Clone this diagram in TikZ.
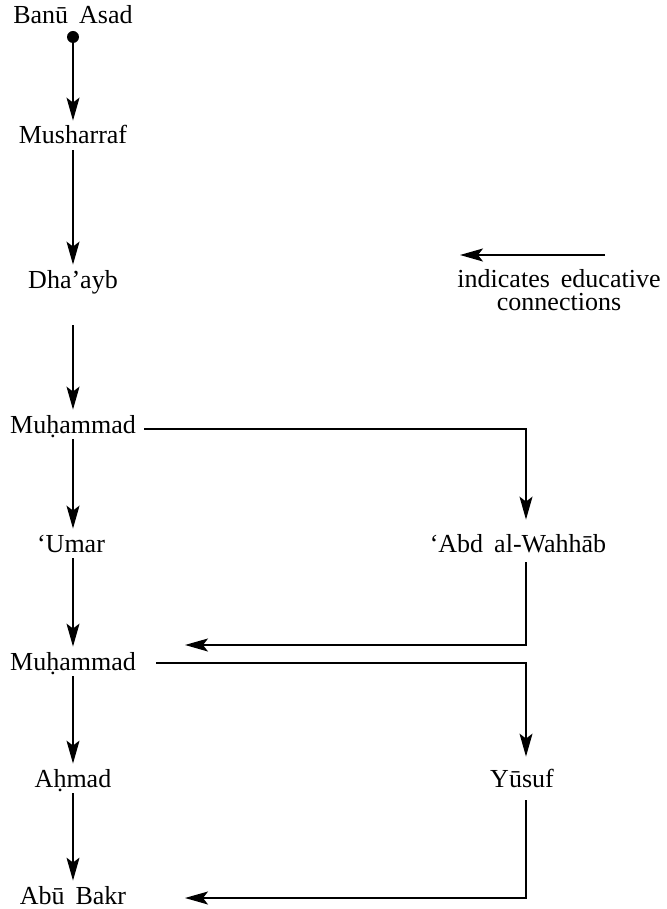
\documentclass[tikz,border=0pt]{standalone}
\usepackage{fontspec}
\setmainfont{Liberation Serif}
\usetikzlibrary{arrows.meta}
\newcommand\personfont{\fontsize{13}{15}\selectfont\spaceskip 5.5pt\relax}

\begin{document}
\begin{tikzpicture}[x=0.5pt,y=-0.5pt,
  person/.style={anchor=base,font=\personfont,
    text height=8.5pt,text depth=0pt,inner xsep=0pt,inner ysep=3pt},
  line/.style={line width=0.65pt,-{Stealth[length=11.5pt,width=6.5pt,inset=2.5pt]}}]
  % helper grid: comment for final drawing
  % \draw[help lines,step=20] (0,0) grid (666,909);
  % \foreach \x in {0,100,...,600}
  %      \node[anchor=north] at (\x,909) {\x};
  \useasboundingbox (0,0) rectangle (666,909);

  % line of descent
  \node[person] (asad)  at (73,24)  {Banū Asad};
  \node[circle,fill,inner sep=0pt,minimum size=6pt] (root) at (73,37) {};
  \node[person] (mush)  at (73,144) {Musharraf};
  \node[person] (dhay)  at (73,288) {Dha’ayb};
  \node[person] (muh1)  at (73,433) {Muḥammad};
  \node[person] (umar)  at (71,552) {‘Umar};
  \node[person] (muh2)  at (73,670) {Muḥammad};
  \node[person] (ahmad) at (73,787) {Aḥmad};
  \node[person] (abu)   at (73,904) {Abū Bakr};

  % teachers
  \node[person] (wahhab) at (518,552) {‘Abd al-Wahhāb};
  \node[person] (yusuf)  at (522,787) {Yūsuf};

  % key
  \coordinate (keyA) at (605,255);
  \coordinate (keyB) at (460,255);
  \node[person] (key1) at (559,287) {indicates educative};
  \node[person] (key2) at (559,310) {connections};
  \draw[line] (keyA) -- (keyB);

  % vertical arrows
  \draw[line] (root) -- (mush);
  \draw[line] (mush) -- (dhay);
  \draw[line,shorten <=15.5pt] (dhay) -- (muh1);
  \draw[line] (muh1) -- (muh1 |- umar.north);
  \draw[line] (muh1 |- umar.south) -- (muh2);
  \draw[line] (muh2) -- (ahmad);
  \draw[line] (ahmad) -- (abu);

  % educative connections
  \coordinate (back1) at (185,645);
  \coordinate (back2) at (185,898);
  \draw[line,shorten >=4.5pt] ([xshift=4pt,yshift=2pt]muh1.base east) -| ([xshift=4pt]wahhab.north);
  \draw[line,shorten <=2pt] ([xshift=4pt]wahhab.south) |- (back1);
  \draw[line,shorten >=3.5pt] ([xshift=10pt,yshift=3.5pt]muh2.base east) -| ([xshift=2pt]yusuf.north);
  \draw[line,shorten <=3.5pt] ([xshift=2pt]yusuf.south) |- (back2);

\end{tikzpicture}
\end{document}
